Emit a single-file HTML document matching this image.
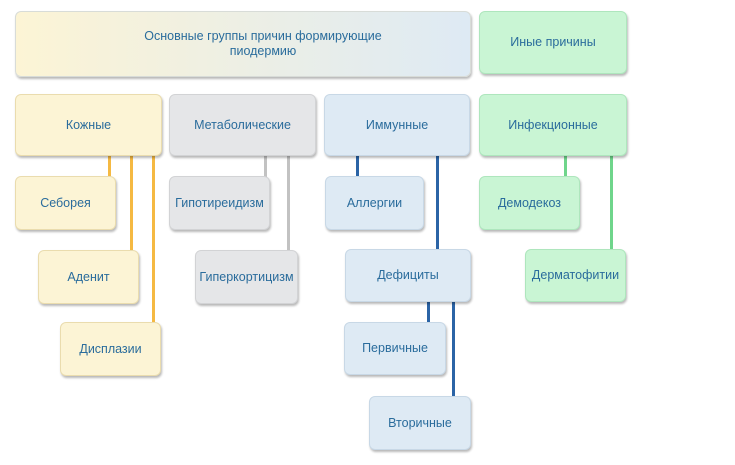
<!DOCTYPE html><html><head><meta charset="utf-8"><style>
body{margin:0;width:735px;height:465px;background:#fff;position:relative;overflow:hidden;font-family:"Liberation Sans",sans-serif}
.b{position:absolute;box-sizing:border-box;border-radius:6px;display:flex;align-items:center;justify-content:center;text-align:center;color:#2a6c9c;font-size:12.5px;box-shadow:1px 2px 2px rgba(0,0,0,.28);line-height:15px}
.y{background:#fcf4d5;border:1px solid #eadcae}.g{background:#e5e6e8;border:1px solid #d2d3d5}.u{background:#deeaf4;border:1px solid #c8d8e6}.n{background:#c9f5d4;border:1px solid #aee6bd}
.l{position:absolute;width:3px}
.o{background:#f5b942}.s{background:#c2c2c2}.bl{background:#2b64a6}.gr{background:#6fd58b}
</style></head><body>
<div class="l o" style="left:108px;top:156px;height:21px"></div>
<div class="l o" style="left:130px;top:156px;height:95px"></div>
<div class="l o" style="left:152px;top:156px;height:167px"></div>
<div class="l s" style="left:264px;top:156px;height:21px"></div>
<div class="l s" style="left:287px;top:156px;height:95px"></div>
<div class="l bl" style="left:356px;top:156px;height:21px"></div>
<div class="l bl" style="left:436px;top:156px;height:94px"></div>
<div class="l gr" style="left:564px;top:156px;height:21px"></div>
<div class="l gr" style="left:610px;top:156px;height:94px"></div>
<div class="l bl" style="left:427px;top:302px;height:21px"></div>
<div class="l bl" style="left:452px;top:302px;height:95px"></div>
<div class="b" style="left:15px;top:11px;width:456px;height:66px;background:linear-gradient(90deg,#fcf4d5,#deeaf4);border:1px solid #d8dcd8;padding-left:40px">Основные группы причин формирующие<br>пиодермию</div>
<div class="b n" style="left:479px;top:11px;width:148px;height:63px">Иные причины</div>
<div class="b y" style="left:15px;top:94px;width:147px;height:62px">Кожные</div>
<div class="b g" style="left:169px;top:94px;width:147px;height:62px">Метаболические</div>
<div class="b u" style="left:324px;top:94px;width:146px;height:62px">Иммунные</div>
<div class="b n" style="left:479px;top:94px;width:148px;height:62px">Инфекционные</div>
<div class="b y" style="left:15px;top:176px;width:101px;height:54px">Себорея</div>
<div class="b g" style="left:169px;top:176px;width:101px;height:54px">Гипотиреидизм</div>
<div class="b u" style="left:325px;top:176px;width:99px;height:54px">Аллергии</div>
<div class="b n" style="left:479px;top:176px;width:101px;height:54px">Демодекоз</div>
<div class="b y" style="left:38px;top:250px;width:101px;height:54px">Аденит</div>
<div class="b g" style="left:195px;top:250px;width:103px;height:54px">Гиперкортицизм</div>
<div class="b u" style="left:345px;top:249px;width:126px;height:53px">Дефициты</div>
<div class="b n" style="left:525px;top:249px;width:101px;height:53px">Дерматофитии</div>
<div class="b y" style="left:60px;top:322px;width:101px;height:54px">Дисплазии</div>
<div class="b u" style="left:344px;top:322px;width:102px;height:53px">Первичные</div>
<div class="b u" style="left:369px;top:396px;width:102px;height:54px">Вторичные</div>
</body></html>
